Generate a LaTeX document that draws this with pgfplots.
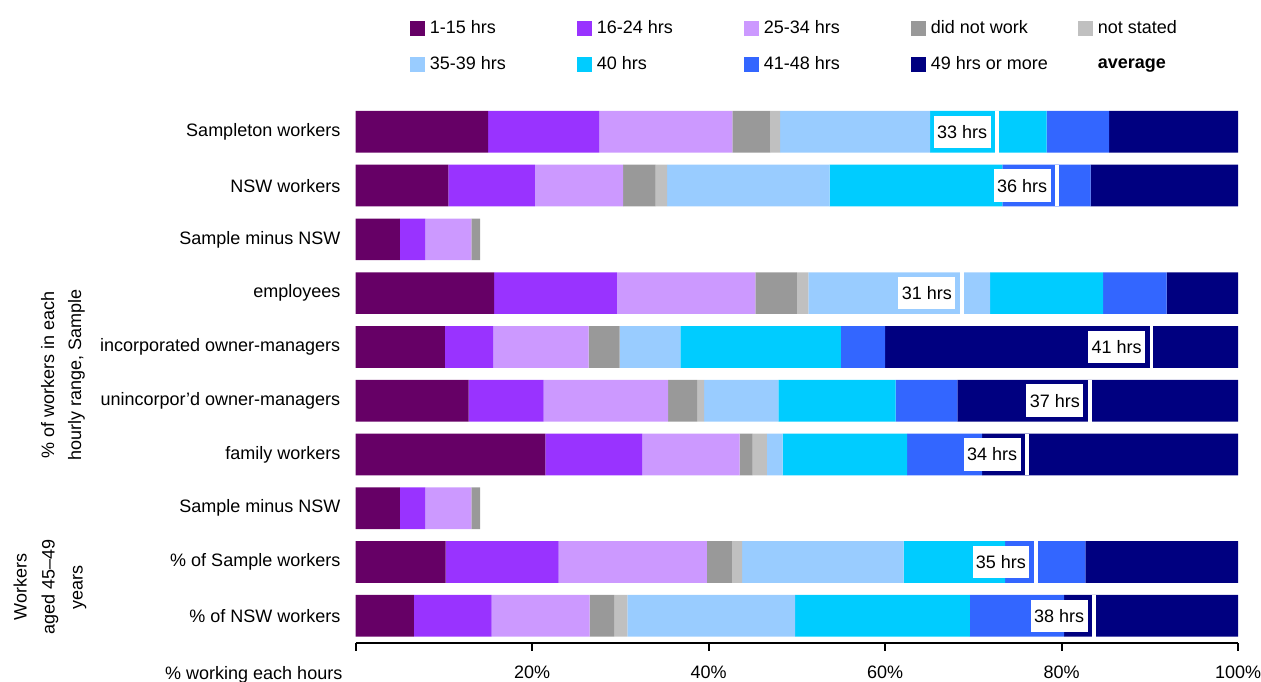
\documentclass[border=0pt]{standalone}
\usepackage{fontspec}
\setmainfont{Liberation Sans}
\usepackage{pgfplots}
\usepackage{pgfplotstable}
\pgfplotsset{compat=1.18}

\definecolor{hA}{HTML}{660066}
\definecolor{hB}{HTML}{9933FF}
\definecolor{hC}{HTML}{CC99FF}
\definecolor{dnw}{HTML}{999999}
\definecolor{nst}{HTML}{C0C0C0}
\definecolor{hD}{HTML}{99CCFF}
\definecolor{hE}{HTML}{00CCFF}
\definecolor{hF}{HTML}{3366FF}
\definecolor{hG}{HTML}{000080}

% share of workers (%) in each hours band, one row per bar (top to bottom)
\pgfplotstableread{
y   h1   h2   h3   dnw  ns   h4   h5   h6   h7
1   15.0 12.6 15.1 4.3  1.1  17.0 13.2 7.1  14.6
2   10.5 9.8  10.0 3.7  1.3  18.4 19.6 10.0 16.7
3   5.0  2.9  5.2  1.0  0    0    0    0    0
4   15.7 13.9 15.7 4.7  1.3  20.6 12.8 7.2  8.1
5   10.1 5.5  10.8 3.5  0    6.9  18.2 5.0  40.0
6   12.8 8.5  14.1 3.3  0.8  8.4  13.3 7.0  31.8
7   21.5 11.0 11.0 1.5  1.6  1.8  14.1 8.5  29.0
8   5.0  2.9  5.2  1.0  0    0    0    0    0
9   10.2 12.8 16.8 2.9  1.1  18.3 11.5 9.1  17.3
10  6.6  8.8  11.1 2.8  1.5  19.0 19.8 10.7 19.7
}\hours

% average hours marker position and label
\pgfplotstableread{
y  x    lab
1  72.7 {33 hrs}
2  79.5 {36 hrs}
4  68.7 {31 hrs}
5  90.2 {41 hrs}
6  83.2 {37 hrs}
7  76.1 {34 hrs}
9  77.1 {35 hrs}
10 83.7 {38 hrs}
}\avg

\newcommand{\lt}[1]{\makebox[71pt][l]{#1}}

\begin{document}
\fontsize{9}{11}\selectfont
\begin{tikzpicture}
\pgfplotsset{
  common/.style={
    at={(177.85pt,-321.35pt)}, anchor=south west,
    width=441.15pt, height=268.9pt, scale only axis,
    xmin=0, xmax=100, ymin=0.5, ymax=10.5, y dir=reverse,
  },
}
\begin{axis}[
    common,
    xbar stacked, bar width=20.85pt,
    axis x line*=bottom, axis y line*=left,
    y axis line style={draw=none},
    x axis line style={line width=1.2pt},
    ytick={1,...,10},
    yticklabels={Sampleton workers, NSW workers, Sample minus NSW, employees,
      incorporated owner-managers, unincorpor'd owner-managers, family workers,
      Sample minus NSW, \% of Sample workers, \% of NSW workers},
    ytick style={draw=none},
    yticklabel style={font=\fontsize{9}{11}\selectfont, xshift=-0.5pt},
    xtick={0,20,40,60,80,100},
    xticklabels={,20\%,40\%,60\%,80\%,100\%},
    xtick style={black, line width=1pt},
    tick align=outside, major tick length=4pt,
    xticklabel style={font=\fontsize{9}{11}\selectfont, anchor=base, yshift=-14pt},
    every axis plot/.append style={draw=none,
      legend image code/.code={\fill[##1] (0pt,-3.75pt) rectangle (7.5pt,3.75pt);}},
    legend columns=5, legend cell align=left,
    legend style={at={(0.0609,1.1088)}, anchor=west, draw=none, fill=none,
      inner sep=0pt, column sep=0pt, row sep=6.5pt,
      font=\fontsize{9}{11}\selectfont, nodes={inner xsep=2.5pt}},
  ]
\addplot[fill=hA] table[x=h1, y=y] {\hours}; \addlegendentry{\lt{1-15 hrs}}
\addplot[fill=hB] table[x=h2, y=y] {\hours}; \addlegendentry{\lt{16-24 hrs}}
\addplot[fill=hC] table[x=h3, y=y] {\hours}; \addlegendentry{\lt{25-34 hrs}}
\addplot[fill=dnw] table[x=dnw, y=y] {\hours}; \addlegendentry{\lt{did not work}}
\addplot[fill=nst] table[x=ns, y=y] {\hours}; \addlegendentry{\lt{not stated}}
\addplot[fill=hD] table[x=h4, y=y] {\hours}; \addlegendentry{\lt{35-39 hrs}}
\addplot[fill=hE] table[x=h5, y=y] {\hours}; \addlegendentry{\lt{40 hrs}}
\addplot[fill=hF] table[x=h6, y=y] {\hours}; \addlegendentry{\lt{41-48 hrs}}
\addplot[fill=hG] table[x=h7, y=y] {\hours}; \addlegendentry{\lt{49 hrs or more}}
\addlegendimage{legend image code/.code={}}
\addlegendentry{\lt{\textbf{average}}}
\end{axis}

\begin{axis}[common, hide axis, clip=false]
\addplot[only marks, mark=|, mark size=10.43pt,
    mark options={draw=white, line width=1.8pt},
    point meta=explicit symbolic, nodes near coords,
    nodes near coords style={anchor=east, xshift=-2.4pt, fill=white, text=black,
      inner xsep=1.7pt, inner ysep=0pt, minimum height=16.3pt,
      font=\fontsize{9}{11}\selectfont}]
  table[x=x, y=y, meta=lab] {\avg};
\end{axis}

\node[rotate=90, align=center, font=\fontsize{9}{13.5}\selectfont]
  at (31.5pt,-187.5pt) {\% of workers in each\\hourly range, Sample};
\node[rotate=90, align=center, font=\fontsize{9}{14}\selectfont]
  at (25pt,-293.5pt) {Workers\\aged 45–49\\years};
\node[anchor=base east, inner sep=0pt] at (171.35pt,-339.5pt) {\% working each hours};

\pgfresetboundingbox
\path (0pt,0pt) rectangle (630.5pt,-340.5pt);
\end{tikzpicture}
\end{document}
